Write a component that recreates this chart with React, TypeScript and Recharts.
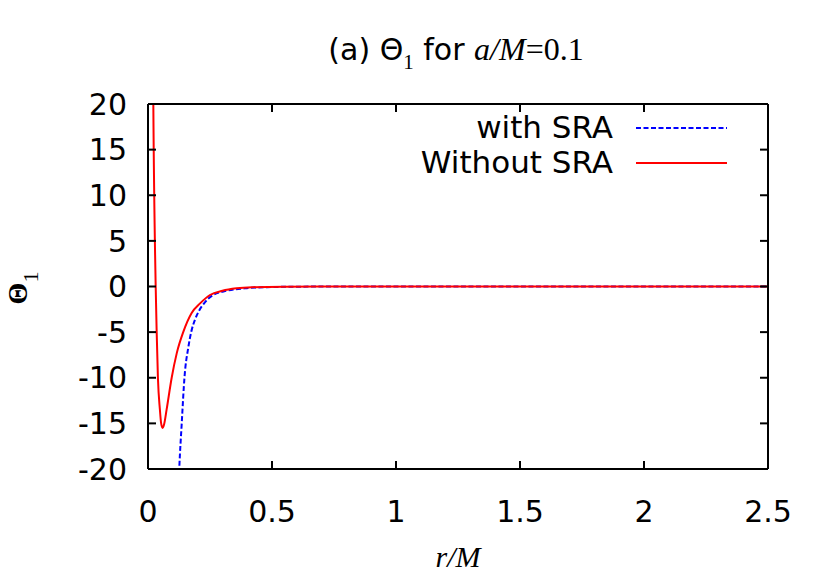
import React from "react";
import { ComposedChart, Line, Scatter, XAxis, YAxis, Legend } from "recharts";

// r/M values and Theta_1 values
const withSraR = [0.112, 0.126, 0.136, 0.147, 0.163, 0.175, 0.19, 0.205, 0.223, 0.263, 0.317, 0.39, 0.48, 0.6, 0.8, 1.0, 1.5, 2.0, 2.5];
const withSraTheta = [-32, -20, -15, -10, -6.6, -4.9, -3.6, -2.7, -1.95, -0.93, -0.47, -0.2, -0.08, -0.02, 0, 0, 0, 0, 0];

const withoutSraR = [0.017, 0.0215, 0.031, 0.035, 0.04, 0.048, 0.053, 0.059, 0.065, 0.075, 0.0955, 0.116, 0.142, 0.176, 0.21, 0.25, 0.3, 0.357, 0.42, 0.55, 0.8, 1.0, 1.5, 2.0, 2.5];
const withoutSraTheta = [40, 20, 0, -5, -10, -13.5, -15, -15.5, -15.1, -13.5, -10, -7.3, -5, -2.9, -1.85, -0.93, -0.47, -0.2, -0.08, -0.02, 0, 0, 0, 0, 0];

const xTicks = [0, 0.5, 1, 1.5, 2, 2.5];
const yTicks = [-20, -15, -10, -5, 0, 5, 10, 15, 20];

const seriesNames = ["with SRA", "Without SRA"];
const seriesColors = ["#0000ff", "#ff0000"];
const seriesDash = ["5 2.5", undefined];

const X_MIN = 0;
const X_MAX = 2.5;
const Y_MIN = -20;
const Y_MAX = 20;

const withSraData = withSraR.map((r, i) => ({ r, v: withSraTheta[i] }));
const withoutSraData = withoutSraR.map((r, i) => ({ r, v: withoutSraTheta[i] }));

// positions of the inward tick marks on the four frame sides
const frameTicks = [
  ...xTicks.map((t) => ({ r: t, v: Y_MIN, side: "bottom" })),
  ...xTicks.map((t) => ({ r: t, v: Y_MAX, side: "top" })),
  ...yTicks.map((t) => ({ r: X_MIN, v: t, side: "left" })),
  ...yTicks.map((t) => ({ r: X_MAX, v: t, side: "right" })),
];

const TICK_PX = 8;
const TickMark = (props: any) => {
  const { cx, cy, payload } = props;
  if (cx == null || cy == null) return <g />;
  const side = payload?.side;
  let x2 = cx;
  let y2 = cy;
  if (side === "bottom") y2 = cy - TICK_PX;
  else if (side === "top") y2 = cy + TICK_PX;
  else if (side === "left") x2 = cx + TICK_PX;
  else x2 = cx - TICK_PX;
  return <line x1={cx} y1={cy} x2={x2} y2={y2} stroke="#000" strokeWidth={2} />;
};

const SANS = "'DejaVu Sans', sans-serif";
const SERIF = "'Liberation Serif', 'Times New Roman', serif";

const renderLegend = () => (
  <div style={{ fontFamily: SANS, fontSize: 31, color: "#000" }}>
    {seriesNames.map((name, i) => (
      <div key={name} style={{ display: "flex", alignItems: "center", height: 35, lineHeight: "35px" }}>
        <span style={{ display: "inline-block", width: 313, textAlign: "right", whiteSpace: "nowrap" }}>{name}</span>
        <svg width={91} height={6} style={{ marginLeft: 23 }}>
          <line x1={0} y1={3} x2={91} y2={3} stroke={seriesColors[i]} strokeWidth={2} strokeDasharray={seriesDash[i]} />
        </svg>
      </div>
    ))}
  </div>
);

const axisLineStyle = { stroke: "#000", strokeWidth: 2 };
const tickFont = { fontFamily: SANS, fontSize: 30, fill: "#000" };

export default function App() {
  return (
    <div style={{ position: "absolute", left: 0, top: 0, width: 830, height: 581, background: "#fff" }}>
      <ComposedChart width={830} height={581} margin={{ top: 103, right: 61, left: 0, bottom: 0 }}>
        <XAxis
          xAxisId="x"
          type="number"
          dataKey="r"
          domain={[X_MIN, X_MAX]}
          allowDataOverflow
          ticks={xTicks}
          orientation="bottom"
          height={112}
          tickSize={0}
          tickMargin={32}
          axisLine={axisLineStyle}
          tickLine={false}
          tick={tickFont}
          interval={0}
        />
        <XAxis
          xAxisId="top"
          type="number"
          domain={[X_MIN, X_MAX]}
          allowDataOverflow
          ticks={xTicks}
          orientation="top"
          height={1}
          axisLine={axisLineStyle}
          tickLine={false}
          tick={false}
        />
        <YAxis
          yAxisId="y"
          type="number"
          dataKey="v"
          domain={[Y_MIN, Y_MAX]}
          allowDataOverflow
          ticks={yTicks}
          orientation="left"
          width={148}
          tickSize={0}
          tickMargin={21}
          axisLine={axisLineStyle}
          tickLine={false}
          tick={tickFont}
          interval={0}
        />
        <YAxis
          yAxisId="right"
          type="number"
          domain={[Y_MIN, Y_MAX]}
          allowDataOverflow
          ticks={yTicks}
          orientation="right"
          width={1}
          axisLine={axisLineStyle}
          tickLine={false}
          tick={false}
        />
        <Scatter
          xAxisId="x"
          yAxisId="y"
          data={frameTicks}
          dataKey="v"
          shape={TickMark}
          legendType="none"
          isAnimationActive={false}
        />
        <Line
          xAxisId="x"
          yAxisId="y"
          data={withSraData}
          dataKey="v"
          name={seriesNames[0]}
          type="monotone"
          stroke={seriesColors[0]}
          strokeWidth={2}
          strokeDasharray={seriesDash[0]}
          dot={false}
          activeDot={false}
          isAnimationActive={false}
        />
        <Line
          xAxisId="x"
          yAxisId="y"
          data={withoutSraData}
          dataKey="v"
          name={seriesNames[1]}
          type="monotone"
          stroke={seriesColors[1]}
          strokeWidth={2}
          dot={false}
          activeDot={false}
          isAnimationActive={false}
        />
        <Legend
          layout="vertical"
          align="center"
          verticalAlign="middle"
          content={renderLegend}
          wrapperStyle={{ position: "absolute", top: 110, left: 300, width: 440 }}
        />
        <text x={456} y={60} textAnchor="middle" fill="#000">
          <tspan fontFamily={SANS} fontSize={30}>(a) Θ</tspan>
          <tspan fontFamily={SERIF} fontSize={21} dy={9}>1</tspan>
          <tspan fontFamily={SANS} fontSize={30} dy={-9}> for </tspan>
          <tspan fontFamily={SERIF} fontSize={32} fontStyle="italic">a/M</tspan>
          <tspan fontFamily={SERIF} fontSize={32}>=0.1</tspan>
        </text>
        <text x={458} y={567} textAnchor="middle" fill="#000" fontFamily={SERIF} fontSize={30} fontStyle="italic">
          r/M
        </text>
        <text transform="translate(27,288) rotate(-90)" textAnchor="middle" fill="#000" fontFamily={SERIF}>
          <tspan fontSize={28} fontWeight="bold">Θ</tspan>
          <tspan fontSize={22} dy={11}>1</tspan>
        </text>
      </ComposedChart>
    </div>
  );
}
